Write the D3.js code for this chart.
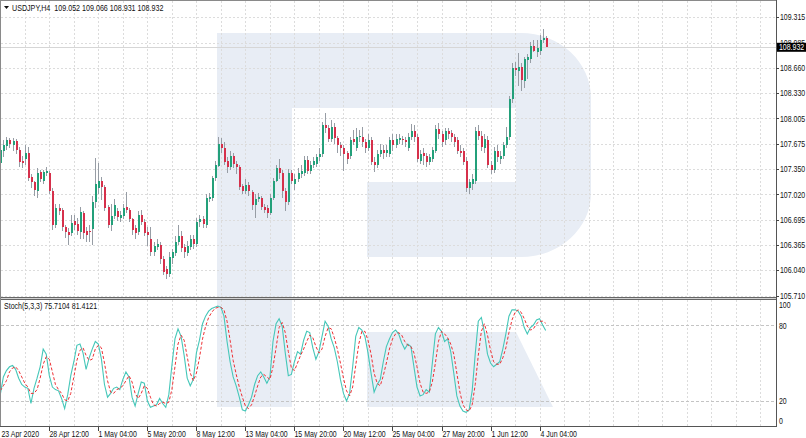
<!DOCTYPE html>
<html>
<head>
<meta charset="utf-8">
<script src="https://cdn.jsdelivr.net/npm/d3@7"></script>
<style>
  body { margin: 0; background: #fff; }
  svg { display: block; font-family: "Liberation Sans", Arial, sans-serif; }
</style>
</head>
<body>
<script>
// USDJPY H4 bars, 23 Apr 20:00 .. 4 Jun 12:00 (index 0..178)
var opens = [107.43,107.58,107.65,107.72,107.66,107.71,107.60,107.46,107.48,107.56,107.25,107.18,107.06,107.31,107.20,107.30,107.30,107.07,106.62,106.85,
  106.82,106.60,106.54,106.52,106.68,106.64,106.53,106.78,106.55,106.55,106.57,106.92,107.10,107.20,107.12,106.86,106.62,106.74,106.80,106.72,
  106.74,106.86,106.82,106.70,106.58,106.53,106.76,106.67,106.53,106.45,106.28,106.34,106.37,106.18,106.05,105.99,106.20,106.26,106.40,106.48,
  106.34,106.26,106.34,106.45,106.38,106.66,106.70,106.62,106.96,106.97,107.23,107.39,107.68,107.62,107.46,107.38,107.52,107.42,107.37,107.13,
  107.07,107.14,107.05,106.88,106.96,106.98,106.86,106.84,106.78,106.97,107.20,107.36,107.30,107.06,106.92,107.30,107.16,107.22,107.28,107.30,
  107.47,107.33,107.40,107.42,107.50,107.55,107.92,107.88,107.74,107.90,107.75,107.66,107.62,107.56,107.52,107.74,107.62,107.76,107.76,107.70,
  107.62,107.72,107.44,107.40,107.55,107.60,107.56,107.55,107.72,107.66,107.73,107.74,107.72,107.62,107.76,107.84,107.76,107.46,107.56,107.52,
  107.44,107.48,107.58,107.87,107.80,107.72,107.84,107.82,107.76,107.72,107.58,107.58,107.46,107.10,107.16,107.20,107.84,107.78,107.62,107.72,
  107.40,107.34,107.58,107.48,107.52,107.66,107.76,108.26,108.66,108.62,108.67,108.49,108.76,108.78,108.94,108.86,108.88,109.02,109.052];
var highs = [107.65,107.72,107.77,107.75,107.75,107.74,107.63,107.52,107.66,107.64,107.28,107.20,107.36,107.34,107.34,107.37,107.33,107.10,106.90,106.90,
  106.85,106.62,106.58,106.76,106.76,106.72,106.86,106.80,106.60,106.62,107.00,107.49,107.43,107.25,107.14,106.88,106.90,106.96,106.85,106.80,
  106.90,107.05,106.85,106.72,106.62,106.80,106.82,106.70,106.60,106.60,106.40,106.45,106.40,106.22,106.10,106.28,106.32,106.48,106.62,106.55,
  106.38,106.42,106.50,106.50,106.72,106.75,106.74,107.02,107.04,107.26,107.46,107.76,107.75,107.70,107.50,107.58,107.56,107.46,107.40,107.16,
  107.22,107.18,107.08,107.02,107.04,107.00,106.90,106.88,107.02,107.24,107.40,107.48,107.34,107.10,107.35,107.34,107.28,107.36,107.40,107.52,
  107.52,107.46,107.50,107.55,107.62,107.96,108.07,107.92,107.98,107.94,107.78,107.70,107.66,107.58,107.76,107.86,107.88,107.86,107.90,107.74,
  107.80,107.76,107.50,107.60,107.68,107.66,107.66,107.76,107.80,107.80,107.80,107.78,107.76,107.82,107.93,107.92,107.80,107.60,107.62,107.56,
  107.54,107.64,107.92,107.94,107.84,107.88,107.88,107.86,107.80,107.76,107.66,107.62,107.50,107.22,107.28,107.90,107.92,107.84,107.80,107.78,
  107.46,107.64,107.66,107.58,107.70,107.90,108.30,108.72,108.74,108.85,108.72,108.80,108.84,109.00,109.02,109.02,109.08,109.16,109.066];
var lows = [107.40,107.50,107.60,107.62,107.58,107.55,107.37,107.36,107.40,107.20,107.10,107.00,106.98,107.18,107.16,107.26,107.03,106.56,106.58,106.75,
  106.55,106.46,106.36,106.48,106.56,106.50,106.45,106.45,106.40,106.40,106.37,106.85,107.02,106.95,106.80,106.58,106.55,106.70,106.68,106.66,
  106.70,106.78,106.66,106.50,106.45,106.50,106.62,106.48,106.35,106.22,106.22,106.30,106.12,105.98,105.93,105.95,106.12,106.22,106.36,106.28,
  106.20,106.22,106.30,106.32,106.34,106.60,106.58,106.58,106.92,106.94,107.20,107.37,107.56,107.40,107.30,107.34,107.36,107.28,107.08,107.02,
  107.02,107.00,106.82,106.72,106.92,106.82,106.78,106.72,106.76,106.95,107.18,107.22,106.98,106.80,106.88,107.16,107.08,107.18,107.24,107.26,
  107.28,107.28,107.36,107.38,107.46,107.50,107.82,107.70,107.70,107.68,107.56,107.52,107.32,107.42,107.48,107.66,107.58,107.70,107.64,107.56,
  107.58,107.40,107.31,107.36,107.50,107.48,107.50,107.50,107.58,107.62,107.68,107.66,107.64,107.58,107.72,107.70,107.44,107.42,107.40,107.38,
  107.40,107.44,107.56,107.74,107.64,107.66,107.74,107.70,107.64,107.54,107.50,107.40,107.05,107.02,107.08,107.16,107.72,107.58,107.56,107.36,
  107.28,107.30,107.44,107.42,107.48,107.62,107.72,108.20,108.55,108.43,108.36,108.40,108.52,108.72,108.86,108.80,108.82,108.98,108.931];
var closes = [107.60,107.66,107.73,107.68,107.71,107.60,107.44,107.43,107.56,107.24,107.18,107.08,107.30,107.22,107.31,107.33,107.06,106.63,106.85,106.80,
  106.60,106.54,106.49,106.65,106.62,106.55,106.79,106.52,106.50,106.53,106.92,107.15,107.20,107.12,106.85,106.63,106.74,106.88,106.73,106.76,
  106.85,106.82,106.70,106.56,106.52,106.76,106.67,106.52,106.49,106.28,106.35,106.38,106.18,106.02,105.99,106.21,106.28,106.40,106.48,106.33,
  106.27,106.35,106.45,106.38,106.67,106.70,106.64,106.98,106.99,107.23,107.40,107.68,107.62,107.44,107.38,107.52,107.41,107.37,107.12,107.07,
  107.14,107.06,106.88,106.96,106.99,106.86,106.82,106.78,106.98,107.20,107.36,107.30,107.06,106.92,107.30,107.20,107.22,107.30,107.33,107.47,
  107.32,107.40,107.45,107.50,107.55,107.92,107.88,107.74,107.90,107.75,107.66,107.62,107.54,107.48,107.72,107.70,107.76,107.78,107.70,107.62,
  107.72,107.44,107.40,107.55,107.60,107.56,107.60,107.72,107.66,107.74,107.75,107.72,107.70,107.76,107.84,107.76,107.48,107.54,107.52,107.44,
  107.50,107.60,107.87,107.80,107.70,107.84,107.80,107.76,107.70,107.58,107.56,107.44,107.10,107.18,107.22,107.84,107.78,107.64,107.74,107.40,
  107.34,107.58,107.50,107.52,107.66,107.76,108.26,108.66,108.63,108.67,108.50,108.77,108.80,108.94,108.88,108.92,109.02,109.05,108.932];

// Stoch(5,3,3): main (%K) and signal (%D)
var stochK = [25,39,44,47,48,45,38,33,31,30,18,30,38,47,61,57,40,31,29,28,
  22,14,25,40,51,64,65,58,45,54,61,67,65,53,33,23,26,30,31,29,
  37,43,39,23,16,26,35,34,20,15,16,17,22,18,15,25,48,69,77,71,
  56,38,32,37,58,68,81,87,91,93,94,95,94,87,67,51,39,32,23,13,
  12,17,23,33,40,43,39,34,39,67,81,85,79,58,40,41,51,59,57,68,
  75,74,62,53,59,71,83,79,69,62,51,37,26,20,26,47,71,78,76,71,
  58,42,27,33,37,51,63,69,74,76,73,66,61,65,63,47,31,24,25,29,
  27,50,73,78,75,67,69,59,42,24,16,12,11,13,28,57,83,86,74,57,
  50,47,49,51,61,73,87,92,92,91,87,78,73,78,80,84,85,80,75.71];
var stochD = [28,32,36,43,46,47,44,39,34,31,26,26,29,38,49,55,53,43,33,29,
  26,21,20,26,39,52,60,62,56,52,53,61,64,62,50,36,27,26,29,30,
  32,36,40,35,26,22,26,32,30,23,17,16,18,19,18,19,29,47,65,72,
  68,55,42,36,42,54,69,79,86,90,93,94,94,92,83,68,52,41,31,23,
  16,14,17,24,32,39,41,39,37,47,62,78,82,74,59,46,44,50,56,61,
  67,72,70,63,58,61,71,78,77,70,61,50,38,28,24,31,48,65,75,75,
  68,57,42,34,32,40,50,61,69,73,74,72,67,64,63,58,47,34,27,26,
  27,35,50,67,75,73,70,65,57,42,27,17,13,12,17,33,56,75,81,72,
  60,51,49,49,54,62,74,84,90,92,90,85,79,76,77,81,83,83,81.41];

var priceTicks = [109.315,108.985,108.660,108.330,108.005,107.675,107.350,107.020,106.695,106.365,106.040,105.710];
var stochTicks = [100,80,20,0];
var stochLevels = [80,20];
var timeLabels = ["23 Apr 2020","28 Apr 12:00","1 May 04:00","5 May 20:00","8 May 12:00","13 May 04:00",
  "15 May 20:00","20 May 12:00","25 May 04:00","27 May 20:00","1 Jun 12:00","4 Jun 04:00"];
var timeLabelBars = [0,16,32,48,64,80,96,112,128,144,160,176];
var title = "USDJPY,H4  109.052 109.066 108.931 108.932";
var stochTitle = "Stoch(5,3,3) 75.7104 81.4121";
var lastPrice = 108.932;

window.onload = function () {
  var W = 806, H = 438;
  var axisX = 776;
  var main = { top: 1, bottom: 297 };
  var sub = { top: 300, bottom: 426 };

  var svg = d3.select("body").append("svg").attr("width", W).attr("height", H);
  svg.append("rect").attr("width", W).attr("height", H).attr("fill", "#fff");

  // terminal font is narrow: squeeze text horizontally
  function label(g, tx, ty, str, fill, sx, size) {
    return g.append("text")
      .attr("transform", "translate(" + tx + "," + ty + ") scale(" + (sx || 0.82) + ",1)")
      .attr("fill", fill || "#111")
      .style("font-size", (size || 8.5) + "px")
      .style("white-space", "pre")
      .text(str);
  }

  // bar index -> x (3.064 px per bar, empty space continues to the right)
  var x = d3.scaleLinear().domain([0, 178]).range([0.3, 545.7]);
  var y = d3.scaleLinear().domain([105.710, 109.315]).range([295.7, 17.2]);
  var ys = d3.scaleLinear().domain([0, 100]).range([426.3, 299.7]);

  var defs = svg.append("defs");
  defs.append("clipPath").attr("id", "clipMain").append("rect")
    .attr("x", 1).attr("y", main.top).attr("width", axisX - 1).attr("height", main.bottom - main.top);
  defs.append("clipPath").attr("id", "clipSub").append("rect")
    .attr("x", 1).attr("y", sub.top).attr("width", axisX - 1).attr("height", sub.bottom - sub.top);

  // watermark logo behind everything
  var wm = "#e8edf5";
  svg.append("path")
    .attr("fill", wm)
    .attr("d", "M217,33 L521,33 A70,65 0 0 1 591,98 L591,193 A70,64 0 0 1 521,257 L367,257 L367,182 L516,182 L516,108 L292,108 L292,407 L217,407 Z");
  svg.append("path")
    .attr("fill", wm)
    .attr("d", "M367,332 L516,332 L553,407 L367,407 Z");

  // vertical grid every 8 bars, in both panels
  var gridBars = d3.range(8, 254, 8);
  var grid = svg.append("g").attr("stroke", "#dcdcdc").attr("stroke-dasharray", "2,2")
    .attr("shape-rendering", "crispEdges");
  gridBars.forEach(function (b) {
    var gx = Math.round(x(b)) + 0.5;
    grid.append("line").attr("x1", gx).attr("x2", gx).attr("y1", main.top).attr("y2", main.bottom);
    grid.append("line").attr("x1", gx).attr("x2", gx).attr("y1", sub.top).attr("y2", sub.bottom);
  });
  priceTicks.forEach(function (p) {
    var gy = Math.round(y(p)) + 0.5;
    grid.append("line").attr("x1", 1).attr("x2", axisX).attr("y1", gy).attr("y2", gy);
  });

  // stoch levels
  svg.append("g").selectAll("line").data(stochLevels).enter().append("line")
    .attr("x1", 1).attr("x2", axisX)
    .attr("y1", function (d) { return Math.round(ys(d)) + 0.5; })
    .attr("y2", function (d) { return Math.round(ys(d)) + 0.5; })
    .attr("stroke", "#c4c4c4").attr("stroke-dasharray", "3,2").attr("shape-rendering", "crispEdges");

  // current price line
  svg.append("line").attr("x1", 1).attr("x2", axisX)
    .attr("y1", Math.round(y(lastPrice)) + 0.5).attr("y2", Math.round(y(lastPrice)) + 0.5)
    .attr("stroke", "#d6d6d6").attr("shape-rendering", "crispEdges");

  // candles
  var bars = d3.range(closes.length);
  var candles = svg.append("g").attr("clip-path", "url(#clipMain)").attr("shape-rendering", "crispEdges");
  candles.selectAll("line").data(bars).enter().append("line")
    .attr("x1", function (i) { return Math.round(x(i)) + 0.5; })
    .attr("x2", function (i) { return Math.round(x(i)) + 0.5; })
    .attr("y1", function (i) { return y(highs[i]); })
    .attr("y2", function (i) { return y(lows[i]); })
    .attr("stroke", "#979da5");
  candles.selectAll("rect").data(bars).enter().append("rect")
    .attr("x", function (i) { return Math.round(x(i)) - 0.5; })
    .attr("width", 2)
    .attr("y", function (i) { return y(Math.max(opens[i], closes[i])); })
    .attr("height", function (i) { return Math.max(1, Math.abs(y(opens[i]) - y(closes[i]))); })
    .attr("fill", function (i) {
      if (Math.abs(closes[i] - opens[i]) < 0.005) return "#3d4a48";
      return closes[i] > opens[i] ? "#23a07a" : "#d6304b";
    });

  // stochastic lines
  var line = d3.line().x(function (d, i) { return x(i); }).y(function (d) { return ys(d); });
  var st = svg.append("g").attr("clip-path", "url(#clipSub)").attr("fill", "none");
  st.append("path").datum(stochK).attr("d", line).attr("stroke", "#45c7b9").attr("stroke-width", 1.1);
  st.append("path").datum(stochD).attr("d", line).attr("stroke", "#ee2f33")
    .attr("stroke-width", 1).attr("stroke-dasharray", "3,2");

  // frames and separators
  var frame = svg.append("g").attr("shape-rendering", "crispEdges");
  frame.append("rect").attr("x", 0).attr("y", main.bottom).attr("width", axisX).attr("height", 3).attr("fill", "#d2d2d2");
  frame.append("line").attr("x1", 0).attr("x2", axisX).attr("y1", 0.5).attr("y2", 0.5).attr("stroke", "#8a8a8a");
  frame.append("line").attr("x1", 0).attr("x2", axisX).attr("y1", main.bottom + 0.5).attr("y2", main.bottom + 0.5).attr("stroke", "#666");
  frame.append("line").attr("x1", 0).attr("x2", axisX).attr("y1", sub.top - 0.5).attr("y2", sub.top - 0.5).attr("stroke", "#666");
  frame.append("line").attr("x1", 0).attr("x2", axisX + 1).attr("y1", sub.bottom + 0.5).attr("y2", sub.bottom + 0.5).attr("stroke", "#555");
  frame.append("line").attr("x1", 0.5).attr("x2", 0.5).attr("y1", 0).attr("y2", sub.bottom).attr("stroke", "#8a8a8a");
  frame.append("line").attr("x1", axisX + 0.5).attr("x2", axisX + 0.5).attr("y1", 0).attr("y2", sub.bottom + 1).attr("stroke", "#555");

  // right price axis
  var pa = svg.append("g");
  priceTicks.forEach(function (p) {
    var ty = Math.round(y(p)) + 0.5;
    pa.append("line").attr("x1", axisX).attr("x2", axisX + 3).attr("y1", ty).attr("y2", ty)
      .attr("stroke", "#444").attr("shape-rendering", "crispEdges");
    label(pa, 780, y(p) + 3.2, p.toFixed(3));
  });
  // last price box
  pa.append("rect").attr("x", 777).attr("y", y(lastPrice) - 4).attr("width", 29).attr("height", 9).attr("fill", "#000");
  label(pa, 779, y(lastPrice) + 3.4, lastPrice.toFixed(3), "#fff");

  // stoch axis
  var sa = svg.append("g");
  var stochLabelY = { 100: 307.5, 80: 328.5, 20: 404.3, 0: 424 };
  stochTicks.forEach(function (v) {
    label(sa, 779, stochLabelY[v], String(v));
  });

  // time axis
  var ta = svg.append("g");
  timeLabels.forEach(function (t, k) {
    var tx = Math.round(x(timeLabelBars[k]));
    if (k > 0) {
      ta.append("line").attr("x1", tx + 0.5).attr("x2", tx + 0.5).attr("y1", 427).attr("y2", 431)
        .attr("stroke", "#444").attr("shape-rendering", "crispEdges");
    }
    label(ta, k === 0 ? 1.5 : tx + 0.5, 437, t);
  });

  // titles
  svg.append("path").attr("d", "M4,6 L9,6 L6.5,9 Z").attr("fill", "#111");
  label(svg, 12, 10.5, title, "#111", 0.86, 8.3);
  label(svg, 4, 308.5, stochTitle, "#111", 0.85, 8.3);
};
</script>
</body>
</html>
